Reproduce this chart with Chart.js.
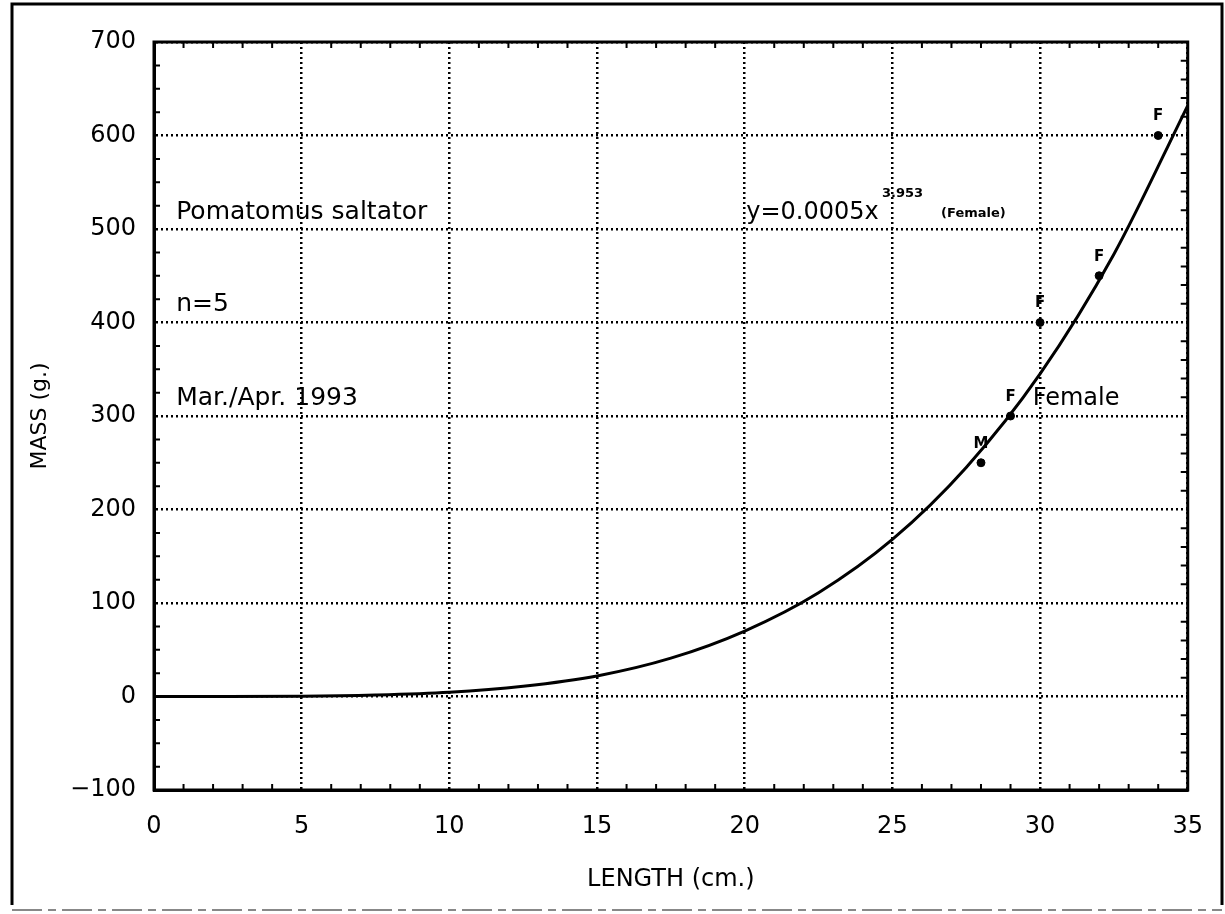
<!DOCTYPE html>
<html>
<head>
<meta charset="utf-8">
<script src="https://cdn.jsdelivr.net/npm/chart.js@4.4.0/dist/chart.umd.min.js"></script>
<style>
  html, body { margin: 0; padding: 0; background: #fff; }
  #wrap { position: relative; width: 1225px; height: 914px; }
</style>
</head>
<body>
<div id="wrap"><canvas id="chart"></canvas></div>
<script>
// Измеренные точки (длина, масса) и пол рыбы
const lengths = [28, 29, 30, 32, 34];
const masses = [250, 300, 400, 450, 600];
const sexLabels = ['M', 'F', 'F', 'F', 'F'];

// Кривая y=0.0005x^3.953
const curveX = [0, 2.5, 5, 7.5, 10, 12.5, 15, 17.5, 20, 22.5, 25, 27.5, 30, 32.5, 35];
const curveY = [0, 0, 0.2, 1.5, 4.5, 11, 22, 41, 70, 111, 168, 245, 345, 473, 632];

// Подписи осей
const xTicks = [0, 5, 10, 15, 20, 25, 30, 35];
const yTicks = [-100, 0, 100, 200, 300, 400, 500, 600, 700];

const FONT = "'DejaVu Sans', sans-serif";

// Рамка, мелкие засечки и текстовые подписи
const decorPlugin = {
    id: 'decor',
    afterDraw(chart) {
        const ctx = chart.ctx;
        const a = chart.chartArea;
        const xs = chart.scales.x;
        const ys = chart.scales.y;
        ctx.save();

        // внешняя рамка
        ctx.strokeStyle = '#000';
        ctx.lineWidth = 3;
        ctx.beginPath();
        ctx.moveTo(12, 905); ctx.lineTo(12, 4); ctx.lineTo(1222, 4); ctx.lineTo(1222, 905);
        ctx.stroke();
        ctx.strokeStyle = '#888';
        ctx.lineWidth = 2;
        ctx.setLineDash([30, 6, 8, 6]);
        ctx.beginPath();
        ctx.moveTo(12, 910); ctx.lineTo(1222, 910);
        ctx.stroke();
        ctx.setLineDash([]);

        // рамка области графика
        ctx.strokeStyle = '#000';
        ctx.lineWidth = 3;
        ctx.strokeRect(a.left, a.top, a.right - a.left, a.bottom - a.top);

        // мелкие засечки
        ctx.lineWidth = 2;
        ctx.beginPath();
        for (let v = 1; v < 35; v++) {
            if (v % 5 === 0) continue;
            const px = xs.getPixelForValue(v);
            ctx.moveTo(px, a.bottom); ctx.lineTo(px, a.bottom - 6);
            ctx.moveTo(px, a.top); ctx.lineTo(px, a.top + 6);
        }
        for (let v = -75; v < 700; v += 25) {
            if (v % 100 === 0) continue;
            const py = ys.getPixelForValue(v);
            ctx.moveTo(a.left, py); ctx.lineTo(a.left + 6, py);
        }
        for (let v = -80; v < 700; v += 20) {
            if (v % 100 === 0) continue;
            const py = ys.getPixelForValue(v);
            ctx.moveTo(a.right, py); ctx.lineTo(a.right - 7, py);
        }
        ctx.stroke();

        // подписи пола над точками
        const meta = chart.getDatasetMeta(1);
        ctx.fillStyle = '#000';
        ctx.font = 'bold 15px ' + FONT;
        ctx.textAlign = 'center';
        ctx.textBaseline = 'middle';
        meta.data.forEach((pt, i) => {
            ctx.fillText(sexLabels[i], pt.x, pt.y - 19);
        });

        // текстовые подписи на поле графика
        const notes = [
            { x: 0.75, y: 518, text: 'Pomatomus saltator', size: 25 },
            { x: 0.75, y: 419, text: 'n=5', size: 25 },
            { x: 0.75, y: 319, text: 'Mar./Apr. 1993', size: 25 },
            { x: 20.05, y: 517, text: 'y=0.0005x', size: 24 },
            { x: 24.65, y: 538, text: '3.953', size: 13, bold: true },
            { x: 26.65, y: 516, text: '(Female)', size: 13, bold: true },
            { x: 29.75, y: 318, text: 'Female', size: 24 }
        ];
        ctx.textAlign = 'left';
        notes.forEach(n => {
            ctx.font = (n.bold ? 'bold ' : '') + n.size + 'px ' + FONT;
            ctx.fillText(n.text, xs.getPixelForValue(n.x), ys.getPixelForValue(n.y));
        });
        ctx.restore();
    }
};

const ctx = document.getElementById('chart').getContext('2d');
new Chart(ctx, {
    type: 'scatter',
    data: {
        datasets: [
            {
                label: 'Female fit',
                type: 'line',
                data: curveX.map((x, i) => ({ x: x, y: curveY[i] })),
                borderColor: '#000',
                borderWidth: 3,
                pointRadius: 0,
                cubicInterpolationMode: 'monotone',
                fill: false
            },
            {
                label: 'Samples',
                data: lengths.map((x, i) => ({ x: x, y: masses[i] })),
                backgroundColor: '#000',
                borderColor: '#000',
                pointRadius: 4
            }
        ]
    },
    options: {
        responsive: true,
        maintainAspectRatio: false,
        animation: false,
        layout: { padding: { left: 0, top: 42, right: 35, bottom: 0 } },
        plugins: {
            legend: { display: false },
            tooltip: { enabled: false }
        },
        scales: {
            x: {
                type: 'linear',
                min: 0,
                max: 35,
                afterBuildTicks: axis => { axis.ticks = xTicks.map(v => ({ value: v })); },
                afterFit: axis => { axis.height = 124; },
                ticks: {
                    color: '#000',
                    font: { family: FONT, size: 24 },
                    padding: 22,
                    maxRotation: 0
                },
                grid: { color: '#000', lineWidth: 2.5, drawTicks: false },
                border: { display: true, color: '#000', width: 3, dash: [2, 3] },
                title: {
                    display: true,
                    text: 'LENGTH (cm.)',
                    color: '#000',
                    font: { family: FONT, size: 24 },
                    padding: { top: 0, bottom: 20 }
                }
            },
            y: {
                type: 'linear',
                min: -100,
                max: 700,
                afterBuildTicks: axis => { axis.ticks = yTicks.map(v => ({ value: v })); },
                afterFit: axis => { axis.width = 154; },
                ticks: {
                    color: '#000',
                    font: { family: FONT, size: 24 },
                    padding: 18,
                    callback: v => (v < 0 ? '\u2212' + Math.abs(v) : String(v))
                },
                grid: { color: '#000', lineWidth: 2.5, drawTicks: false },
                border: { display: true, color: '#000', width: 3, dash: [2, 3] },
                title: {
                    display: true,
                    text: 'MASS (g.)',
                    color: '#000',
                    font: { family: FONT, size: 22 },
                    padding: { top: 27, bottom: 0 }
                }
            }
        }
    },
    plugins: [decorPlugin]
});
</script>
</body>
</html>
